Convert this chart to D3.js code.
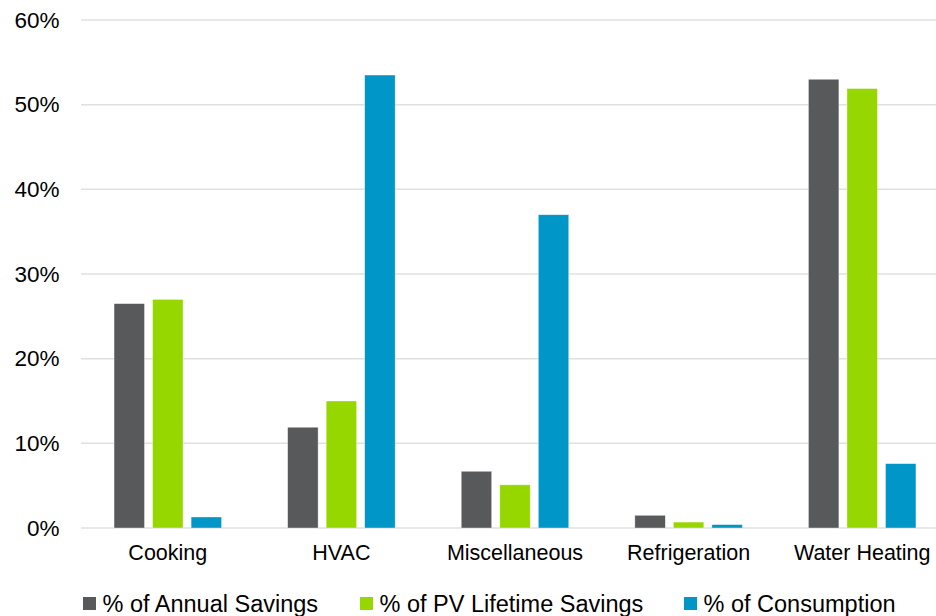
<!DOCTYPE html>
<html>
<head>
<meta charset="utf-8">
<script src="https://cdn.jsdelivr.net/npm/d3@7"></script>
<style>
  html, body { margin: 0; padding: 0; background: #fff; }
  svg { display: block; font-family: "Liberation Sans", Arial, sans-serif; }
</style>
</head>
<body>
<svg id="chart" width="936" height="616"></svg>
<script>
// End-use categories and the three shares for each
const categories = ["Cooking", "HVAC", "Miscellaneous", "Refrigeration", "Water Heating"];
const seriesNames = ["% of Annual Savings", "% of PV Lifetime Savings", "% of Consumption"];
const annualSavings = [26.5, 11.9, 6.7, 1.5, 53.0];
const pvLifetimeSavings = [27.0, 15.0, 5.1, 0.7, 51.9];
const consumption = [1.3, 53.5, 37.0, 0.4, 7.6];
const yTicks = [0, 10, 20, 30, 40, 50, 60];
const colors = ["#58595b", "#97d700", "#0096c8"];

const seriesValues = [annualSavings, pvLifetimeSavings, consumption];
const rows = categories.map((c, i) => ({
  category: c,
  values: seriesNames.map((s, j) => ({ series: s, idx: j, value: seriesValues[j][i] }))
}));

const svg = d3.select("#chart");
const plot = { left: 81, right: 949, top: 20, bottom: 528 };

const x = d3.scaleBand().domain(categories).range([plot.left, plot.right]).paddingInner(0).paddingOuter(0);
const y = d3.scaleLinear().domain([0, 60]).range([plot.bottom, plot.top]);
const xs = d3.scaleBand().domain(seriesNames).range([0, 107.5]).paddingInner(0.21).paddingOuter(0);

// Horizontal gridlines
svg.append("g")
  .selectAll("line")
  .data(yTicks)
  .join("line")
  .attr("x1", plot.left).attr("x2", plot.right)
  .attr("y1", d => y(d)).attr("y2", d => y(d))
  .attr("stroke", "#e0e0e0").attr("stroke-width", 1.5);

// Y-axis labels
const yAxis = d3.axisLeft(y).tickValues(yTicks).tickFormat(d => d + "%").tickSize(0).tickPadding(0);
svg.append("g")
  .attr("transform", `translate(59.5,0)`)
  .call(yAxis)
  .call(g => g.select(".domain").remove())
  .selectAll("text")
  .attr("font-size", "22.5px")
  .attr("fill", "#000")
  .attr("font-family", "Liberation Sans, Arial, sans-serif");

// X-axis category labels
const xAxis = d3.axisBottom(x).tickSize(0).tickPadding(0);
svg.append("g")
  .attr("transform", `translate(0,${plot.bottom + 17})`)
  .call(xAxis)
  .call(g => g.select(".domain").remove())
  .selectAll("text")
  .attr("font-size", "21.5px")
  .attr("fill", "#000")
  .attr("font-family", "Liberation Sans, Arial, sans-serif");

// Grouped bars
const groups = svg.append("g")
  .selectAll("g")
  .data(rows)
  .join("g")
  .attr("transform", d => `translate(${x(d.category) + x.bandwidth() / 2 - 53.75},0)`);

groups.selectAll("rect")
  .data(d => d.values)
  .join("rect")
  .attr("x", d => xs(d.series))
  .attr("width", xs.bandwidth())
  .attr("y", d => y(d.value))
  .attr("height", d => y(0) - y(d.value))
  .attr("fill", d => colors[d.idx])
  .attr("stroke", "#ffffff")
  .attr("stroke-opacity", 0.6)
  .attr("stroke-width", 0.6);

// Legend
const legendX = [83, 360, 684];
const legend = svg.append("g")
  .selectAll("g")
  .data(seriesNames)
  .join("g")
  .attr("transform", (d, i) => `translate(${legendX[i]},0)`);
legend.append("rect")
  .attr("x", 0).attr("y", 597)
  .attr("width", 13).attr("height", 13)
  .attr("fill", (d, i) => colors[i]);
legend.append("text")
  .attr("x", 19.5).attr("y", 612)
  .attr("font-size", "23.5px")
  .attr("fill", "#000")
  .text(d => d);
</script>
</body>
</html>
